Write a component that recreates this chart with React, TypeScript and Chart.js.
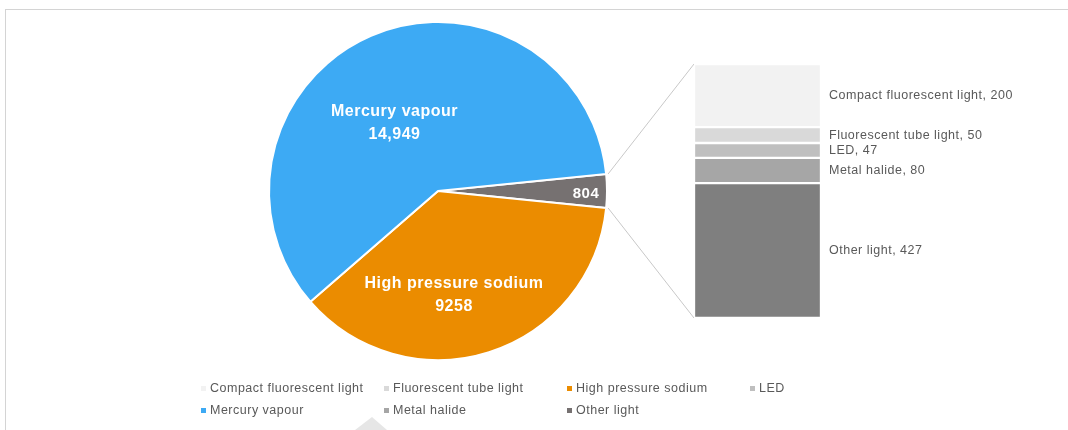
import React, { useEffect, useRef } from "react";
import { Chart, registerables } from "chart.js";
Chart.register(...registerables);

// Pie data (main pie)
const pieLabels = ["Other", "High pressure sodium", "Mercury vapour"];
const pieValues = [804, 9258, 14949];
const pieValueText = ["804", "9258", "14,949"];
const pieColors = ["#767171", "#EB8C00", "#3DAAF4"];

// Bar-of-pie breakdown of "Other" (bottom to top)
const barLabels = ["Other light", "Metal halide", "LED", "Fluorescent tube light", "Compact fluorescent light"];
const barValues = [427, 80, 47, 50, 200];
const barColors = ["#7F7F7F", "#A6A6A6", "#BFBFBF", "#D9D9D9", "#F2F2F2"];

// Legend
const legendLabels = [
  "Compact fluorescent light",
  "Fluorescent tube light",
  "High pressure sodium",
  "LED",
  "Mercury vapour",
  "Metal halide",
  "Other light",
];
const legendColors = ["#F2F2F2", "#D9D9D9", "#EB8C00", "#BFBFBF", "#3DAAF4", "#A6A6A6", "#767171"];

const FONT = "'Liberation Sans', Arial, sans-serif";
const W = 1068;
const H = 430;

export default function App() {
  const pieRef = useRef<HTMLCanvasElement | null>(null);
  const barRef = useRef<HTMLCanvasElement | null>(null);

  useEffect(() => {
    document.body.style.margin = "0";
    const barCanvas = barRef.current!;
    const pieCanvas = pieRef.current!;
    const barLeft = 694;
    const barTop = 64;

    const barLabelPlugin = {
      id: "barLabels",
      afterDraw(chart: any) {
        const ctx = chart.ctx;
        ctx.save();
        ctx.font = `12.5px ${FONT}`;
        (ctx as any).letterSpacing = "0.5px";
        ctx.fillStyle = "#595959";
        ctx.textAlign = "left";
        ctx.textBaseline = "middle";
        chart.data.datasets.forEach((ds: any, i: number) => {
          const el = chart.getDatasetMeta(i).data[0];
          const p = el.getProps(["x", "y", "base", "width"], true);
          const ym = (p.y + p.base) / 2;
          ctx.fillText(`${ds.label}, ${ds.data[0]}`, p.x + p.width / 2 + 8, ym);
        });
        ctx.restore();
      },
    };

    const barChart = new Chart(barCanvas, {
      type: "bar",
      data: {
        labels: [""],
        datasets: barLabels.map((l, i) => ({
          label: l,
          data: [barValues[i]],
          backgroundColor: barColors[i],
          borderColor: "#FFFFFF",
          borderWidth: 1.5,
          borderSkipped: false,
          barPercentage: 1,
          categoryPercentage: 1,
          stack: "s",
        })),
      },
      options: {
        responsive: false,
        animation: false,
        layout: { padding: { left: 0, top: 0, bottom: 0, right: 247 } },
        plugins: { legend: { display: false }, tooltip: { enabled: false } },
        scales: {
          x: { display: false, stacked: true },
          y: { display: false, stacked: true, min: 0, max: barValues.reduce((a, b) => a + b, 0) },
        },
      },
      plugins: [barLabelPlugin],
    });

    const total = pieValues.reduce((a, b) => a + b, 0);
    const rotation = 90 - (pieValues[0] / total) * 180;

    // label placement: angle (deg, canvas) and radius fraction per slice
    const labelAngle = [1.16, 81.25, 237.2];
    const labelFrac = [0.876, 0.622, 0.475];

    const pieLabelPlugin = {
      id: "pieLabels",
      afterDraw(chart: any) {
        const ctx = chart.ctx;
        const meta = chart.getDatasetMeta(0);
        ctx.save();
        ctx.fillStyle = "#FFFFFF";
        ctx.textAlign = "center";
        ctx.textBaseline = "middle";
        (ctx as any).letterSpacing = "0.5px";
        meta.data.forEach((arc: any, i: number) => {
          const p = arc.getProps(["x", "y", "outerRadius"], true);
          const a = (labelAngle[i] * Math.PI) / 180;
          const cx = p.x + Math.cos(a) * p.outerRadius * labelFrac[i];
          const cy = p.y + Math.sin(a) * p.outerRadius * labelFrac[i];
          if (i === 0) {
            ctx.font = `bold 15px ${FONT}`;
            ctx.fillText(pieValueText[i], cx, cy);
          } else {
            ctx.font = `bold 16px ${FONT}`;
            ctx.fillText(pieLabels[i], cx, cy - 11.5);
            ctx.fillText(pieValueText[i], cx, cy + 11.5);
          }
        });
        (ctx as any).letterSpacing = "0px";
        // connector lines from "Other" slice to the bar
        const other = meta.data[0].getProps(["x", "y", "outerRadius", "startAngle", "endAngle"], true);
        const bm0 = barChart.getDatasetMeta(0).data[0] as any;
        const bmN = barChart.getDatasetMeta(barLabels.length - 1).data[0] as any;
        const b0 = bm0.getProps(["x", "base", "width"], true);
        const bN = bmN.getProps(["x", "y", "width"], true);
        const bx = barLeft + b0.x - b0.width / 2;
        const yTop = barTop + bN.y;
        const yBot = barTop + b0.base;
        ctx.strokeStyle = "#C8C8C8";
        ctx.lineWidth = 1;
        ctx.beginPath();
        ctx.moveTo(other.x + Math.cos(other.startAngle) * other.outerRadius + 2, other.y + Math.sin(other.startAngle) * other.outerRadius);
        ctx.lineTo(bx, yTop);
        ctx.moveTo(other.x + Math.cos(other.endAngle) * other.outerRadius + 2, other.y + Math.sin(other.endAngle) * other.outerRadius);
        ctx.lineTo(bx, yBot);
        ctx.stroke();
        ctx.restore();
      },
    };

    const pieChart = new Chart(pieCanvas, {
      type: "pie",
      data: {
        labels: pieLabels,
        datasets: [
          {
            data: pieValues,
            backgroundColor: pieColors,
            borderColor: "#FFFFFF",
            borderWidth: 2,
          },
        ],
      },
      options: {
        responsive: false,
        animation: false,
        rotation,
        layout: { padding: { left: 268, top: 21, right: W - 608, bottom: H - 361 } },
        plugins: { legend: { display: false }, tooltip: { enabled: false } },
      },
      plugins: [pieLabelPlugin],
    });

    return () => {
      pieChart.destroy();
      barChart.destroy();
    };
  }, []);

  return (
    <div style={{ position: "relative", width: W, height: H, overflow: "hidden", background: "#FFFFFF" }}>
      <div
        style={{
          position: "absolute",
          left: 5,
          top: 9,
          width: W + 20,
          height: H + 20,
          borderLeft: "1px solid #D4D4D4",
          borderTop: "1px solid #D4D4D4",
        }}
      />
      <svg style={{ position: "absolute", left: 0, top: 0 }} width={W} height={H}>
        <polygon points="355,430 372,417 387,430" fill="#E6E6E6" />
      </svg>
      <canvas ref={pieRef} width={W} height={H} style={{ position: "absolute", left: 0, top: 0 }} />
      <canvas ref={barRef} width={374} height={254} style={{ position: "absolute", left: 694, top: 64 }} />
      {legendLabels.map((l, i) => {
        const col = i % 4;
        const row = Math.floor(i / 4);
        return (
          <div
            key={l}
            style={{
              position: "absolute",
              left: 201 + col * 183,
              top: 388 + row * 22 - 8,
              height: 16,
              display: "flex",
              alignItems: "center",
              font: `12.5px ${FONT}`,
              letterSpacing: "0.5px",
              color: "#595959",
              whiteSpace: "nowrap",
            }}
          >
            <span style={{ display: "inline-block", width: 5, height: 5, background: legendColors[i], marginRight: 4 }} />
            {l}
          </div>
        );
      })}
    </div>
  );
}
